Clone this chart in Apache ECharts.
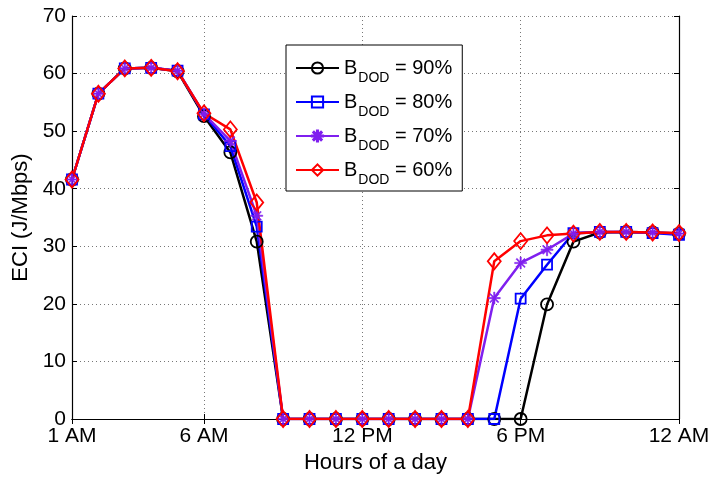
<!DOCTYPE html>
<html>
<head>
<meta charset="utf-8">
<script src="https://cdn.jsdelivr.net/npm/echarts@6/dist/echarts.min.js"></script>
<style>
  html, body { margin: 0; padding: 0; background: #fff; }
  #chart { width: 716px; height: 479px; }
</style>
</head>
<body>
<div id="chart"></div>
<script>
// [A] Data (ECI per hour of day)
const hourLabels = ['1 AM', '2 AM', '3 AM', '4 AM', '5 AM', '6 AM', '7 AM', '8 AM', '9 AM', '10 AM', '11 AM',
  '12 PM', '1 PM', '2 PM', '3 PM', '4 PM', '5 PM', '6 PM', '7 PM', '8 PM', '9 PM', '10 PM', '11 PM', '12 AM'];
const shownTicks = [0, 5, 11, 17, 23]; // 1 AM, 6 AM, 12 PM, 6 PM, 12 AM

const dod90 = [41.6, 56.5, 60.9, 61.0, 60.4, 52.6, 46.3, 30.8, 0, 0, 0, 0, 0, 0, 0, 0, 0, 0, 19.9, 30.8, 32.4, 32.5, 32.4, 32.2];
const dod80 = [41.6, 56.5, 60.9, 61.0, 60.5, 52.9, 47.4, 33.4, 0, 0, 0, 0, 0, 0, 0, 0, 0, 20.9, 26.8, 32.3, 32.5, 32.5, 32.3, 32.0];
const dod70 = [41.6, 56.5, 60.9, 61.0, 60.5, 53.0, 48.3, 35.3, 0, 0, 0, 0, 0, 0, 0, 0, 21.0, 27.1, 29.4, 32.2, 32.5, 32.5, 32.4, 32.2];
const dod60 = [41.6, 56.5, 60.9, 61.0, 60.4, 53.1, 50.3, 37.6, 0, 0, 0, 0, 0, 0, 0, 0, 27.4, 30.9, 31.9, 32.2, 32.5, 32.5, 32.4, 32.3];

const legendNames = ['90%', '80%', '70%', '60%'];

// [B] MATLAB-like asterisk marker
const asterisk = 'path://M-1,-10L1,-10L1,10L-1,10Z M-10,-1L10,-1L10,1L-10,1Z ' +
  'M-7.7,-6.3L-6.3,-7.7L7.7,6.3L6.3,7.7Z M6.3,-7.7L7.7,-6.3L-6.3,7.7L-7.7,6.3Z';

const FONT = 'Liberation Sans, Arial, Helvetica, sans-serif';
const tickIdx = (i) => shownTicks.indexOf(i) >= 0;

function makeSeries(name, data, color, symbol, size, filled) {
  return {
    name: name,
    type: 'line',
    data: data,
    symbol: symbol,
    symbolSize: size,
    lineStyle: { color: color, width: 2.5 },
    itemStyle: {
      color: filled ? color : 'rgba(0,0,0,0)',
      borderColor: color,
      borderWidth: filled ? 0.6 : 1.8
    },
    emphasis: { disabled: true },
    z: 2
  };
}

const chart = echarts.init(document.getElementById('chart'), null, { renderer: 'canvas' });

const option = {
  animation: false,
  textStyle: { fontFamily: FONT },
  grid: { left: 72, right: 37, top: 16, bottom: 60, containLabel: false },
  legend: {
    orient: 'vertical',
    left: 286,
    top: 45,
    padding: [13, 10, 4, 9],
    itemGap: 7,
    itemWidth: 43,
    itemHeight: 14,
    backgroundColor: '#fff',
    borderColor: '#000',
    borderWidth: 1,
    data: legendNames,
    formatter: (n) => '{b|B}{s|DOD}{b| = ' + n + '}',
    textStyle: {
      fontFamily: FONT,
      color: '#000',
      rich: {
        b: { fontSize: 20, fontFamily: FONT, color: '#000' },
        s: { fontSize: 14, fontFamily: FONT, color: '#000', padding: [20, 0, 0, 1] }
      }
    }
  },
  xAxis: [{
    type: 'category',
    data: hourLabels,
    boundaryGap: false,
    name: 'Hours of a day',
    nameLocation: 'middle',
    nameGap: 31,
    nameTextStyle: { fontSize: 22, color: '#000', fontFamily: FONT },
    axisLine: { lineStyle: { color: '#000', width: 1.2 } },
    axisTick: { inside: true, length: 5, interval: tickIdx, lineStyle: { color: '#000' } },
    axisLabel: { interval: tickIdx, fontSize: 21, color: '#000', margin: 7, fontFamily: FONT },
    splitLine: { show: true, interval: tickIdx, lineStyle: { color: '#777', type: [1, 3] } }
  }, {
    type: 'category',
    data: hourLabels,
    boundaryGap: false,
    position: 'top',
    axisLine: { lineStyle: { color: '#000', width: 1.2 } },
    axisTick: { inside: true, length: 5, interval: tickIdx, lineStyle: { color: '#000' } },
    axisLabel: { show: false },
    splitLine: { show: false }
  }],
  yAxis: [{
    type: 'value',
    min: 0,
    max: 70,
    interval: 10,
    name: 'ECI (J/Mbps)',
    nameLocation: 'middle',
    nameGap: 32,
    nameTextStyle: { fontSize: 22, color: '#000', fontFamily: FONT },
    axisLine: { show: true, lineStyle: { color: '#000', width: 1.2 } },
    axisTick: { show: true, inside: true, length: 5, lineStyle: { color: '#000' } },
    axisLabel: { fontSize: 21, color: '#000', margin: 6, fontFamily: FONT },
    splitLine: { show: true, lineStyle: { color: '#777', type: [1, 3] } }
  }, {
    type: 'value',
    min: 0,
    max: 70,
    interval: 10,
    position: 'right',
    axisLine: { show: true, lineStyle: { color: '#000', width: 1.2 } },
    axisTick: { show: true, inside: true, length: 5, lineStyle: { color: '#000' } },
    axisLabel: { show: false },
    splitLine: { show: false }
  }],
  series: [
    makeSeries('90%', dod90, '#000000', 'circle', 12, false),
    makeSeries('80%', dod80, '#0000ff', 'rect', 10, false),
    makeSeries('70%', dod70, '#7f1fef', asterisk, 12, true),
    makeSeries('60%', dod60, '#ff0000', 'diamond', [13, 16], false)
  ]
};

chart.setOption(option);
</script>
</body>
</html>
